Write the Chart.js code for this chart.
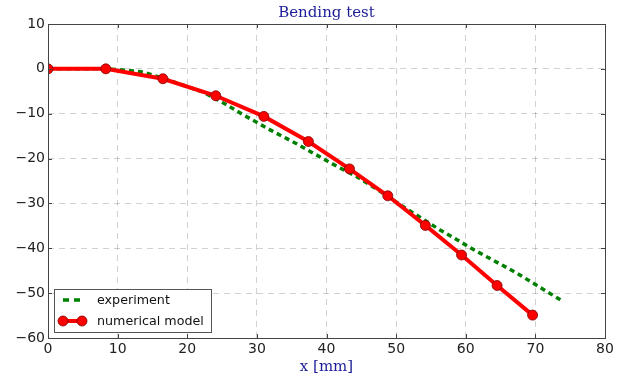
<!DOCTYPE html>
<html lang="en">
<head>
  <meta charset="UTF-8">
  <title>Bending test</title>
  <script src="https://cdn.jsdelivr.net/npm/chart.js"></script>
  <style>
    body { margin: 0; background: #fff; }
    #wrap { width: 634px; height: 377px; }
  </style>
</head>
<body>
  <div id="wrap"><canvas id="chart" width="634" height="377"></canvas></div>

  <script>
    // values
    const expX = [0, 8.3, 10.3, 13.7, 17.5, 22.3, 25.2, 28.0, 31.9, 35.7, 40.5, 44.3, 47.7, 51.5, 56.3, 61.6, 67.3, 73.6];
    const expY = [0, 0, -0.2, -0.7, -2.6, -5.2, -7.6, -10.2, -13.6, -16.7, -20.9, -24.0, -27.3, -31.2, -35.9, -40.7, -45.5, -51.5];
    const modelX = [0, 8.3, 16.5, 24.1, 31.0, 37.4, 43.3, 48.8, 54.2, 59.4, 64.5, 69.6];
    const modelY = [0, 0, -2.2, -6.0, -10.6, -16.2, -22.3, -28.3, -34.9, -41.5, -48.3, -54.9];
    const xTicks = [0, 10, 20, 30, 40, 50, 60, 70, 80];
    const yTicks = [10, 0, -10, -20, -30, -40, -50, -60];

    const titleColor = '#1c1c99';
    const tickFont = { family: 'DejaVu Sans', size: 14 };
    const fmt = v => String(v).replace('-', '\u2212');

    // frame with inward tick marks on all four sides (matplotlib classic look)
    const framePlugin = {
      id: 'frame',
      afterDatasetsDraw(chart) {
        const { ctx, chartArea: a, scales } = chart;
        ctx.save();
        ctx.strokeStyle = '#444';
        ctx.lineWidth = 1;
        ctx.beginPath();
        xTicks.forEach(v => {
          const px = Math.round(scales.x.getPixelForValue(v)) + 0.5;
          ctx.moveTo(px, a.bottom); ctx.lineTo(px, a.bottom - 4);
          ctx.moveTo(px, a.top); ctx.lineTo(px, a.top + 4);
        });
        yTicks.forEach(v => {
          const py = Math.round(scales.y.getPixelForValue(v)) + 0.5;
          ctx.moveTo(a.left, py); ctx.lineTo(a.left + 4, py);
          ctx.moveTo(a.right, py); ctx.lineTo(a.right - 4, py);
        });
        ctx.stroke();
        ctx.strokeRect(Math.round(a.left) + 0.5, Math.round(a.top) + 0.5,
                       Math.round(a.right - a.left), Math.round(a.bottom - a.top));
        ctx.restore();
      }
    };

    // legend box in the lower-left corner of the plot
    const legendPlugin = {
      id: 'cornerLegend',
      afterDraw(chart) {
        const { ctx, chartArea: a } = chart;
        const sets = chart.data.datasets;
        const x0 = a.left + 6, w = 157, h = 43, y0 = a.bottom - 6 - h;
        ctx.save();
        ctx.fillStyle = '#fff';
        ctx.fillRect(x0, y0, w, h);
        ctx.strokeStyle = '#555';
        ctx.lineWidth = 1;
        ctx.strokeRect(Math.round(x0) + 0.5, Math.round(y0) + 0.5, w, h);
        ctx.font = '12.7px "DejaVu Sans"';
        ctx.textBaseline = 'middle';
        sets.forEach((ds, i) => {
          const y = y0 + 11 + i * 21;
          ctx.strokeStyle = ds.borderColor;
          ctx.lineWidth = ds.borderWidth;
          ctx.setLineDash(ds.borderDash ? [6, 5] : []);
          ctx.beginPath();
          ctx.moveTo(x0 + 9, y); ctx.lineTo(x0 + 26, y);
          ctx.stroke();
          ctx.setLineDash([]);
          if (ds.pointRadius > 0) {
            [x0 + 9, x0 + 28].forEach(cx => {
              ctx.beginPath();
              ctx.arc(cx, y, ds.pointRadius, 0, Math.PI * 2);
              ctx.fillStyle = ds.pointBackgroundColor;
              ctx.fill();
              ctx.lineWidth = ds.pointBorderWidth;
              ctx.strokeStyle = ds.pointBorderColor;
              ctx.stroke();
            });
          }
          ctx.fillStyle = '#111';
          ctx.fillText(ds.label, x0 + 43, y + 1);
        });
        ctx.restore();
      }
    };

    new Chart(document.getElementById('chart'), {
      type: 'scatter',
      data: {
        datasets: [{
          label: 'experiment',
          data: expX.map((x, i) => ({ x, y: expY[i] })),
          showLine: true,
          borderColor: '#008000',
          borderWidth: 3.5,
          borderDash: [5, 4],
          pointRadius: 0,
          order: 2
        }, {
          label: 'numerical model',
          data: modelX.map((x, i) => ({ x, y: modelY[i] })),
          showLine: true,
          borderColor: '#ff0000',
          borderWidth: 4,
          pointRadius: 5,
          pointBackgroundColor: '#ff0000',
          pointBorderColor: '#7a0000',
          pointBorderWidth: 0.8,
          order: 1
        }]
      },
      options: {
        responsive: false,
        animation: false,
        layout: { padding: { left: 0, right: 29, top: 0, bottom: 0 } },
        plugins: {
          legend: { display: false },
          tooltip: { enabled: false },
          title: {
            display: true,
            text: 'Bending test',
            fullSize: false,
            color: titleColor,
            font: { family: 'DejaVu Serif', size: 15, weight: 'normal', lineHeight: 1 },
            padding: { top: 6, bottom: 3 }
          }
        },
        scales: {
          x: {
            type: 'linear',
            min: 0, max: 80,
            afterBuildTicks: s => { s.ticks = xTicks.map(v => ({ value: v })); },
            afterFit: s => { s.height = 39; },
            grid: { color: 'rgba(0,0,0,0.18)', drawTicks: false },
            border: { display: false, dash: [6, 5] },
            ticks: { color: '#222', font: tickFont, padding: 3, maxRotation: 0, callback: fmt },
            title: {
              display: true,
              text: 'x [mm]',
              color: titleColor,
              font: { family: 'DejaVu Serif', size: 15, lineHeight: 1 },
              padding: { top: 0, bottom: 2 }
            }
          },
          y: {
            min: -60, max: 10,
            afterBuildTicks: s => { s.ticks = yTicks.map(v => ({ value: v })); },
            afterFit: s => { s.width = 48; },
            grid: { color: 'rgba(0,0,0,0.18)', drawTicks: false },
            border: { display: false, dash: [6, 5] },
            ticks: { color: '#222', font: tickFont, padding: 3, callback: fmt }
          }
        }
      },
      plugins: [framePlugin, legendPlugin]
    });
  </script>
</body>
</html>
